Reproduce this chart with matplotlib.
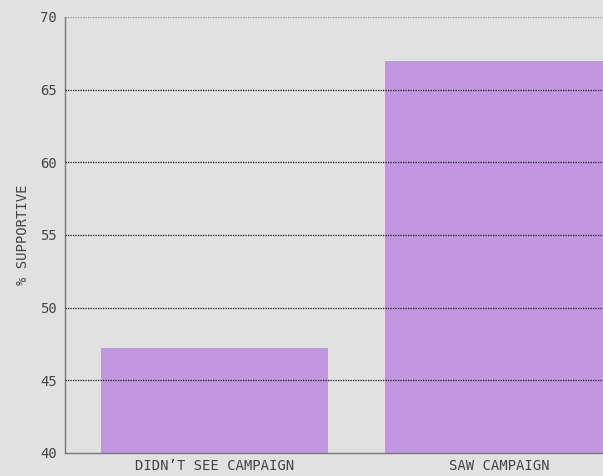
import matplotlib
matplotlib.use('Agg')
import matplotlib.pyplot as plt

# DATA
categories = ["DIDN\u2019T SEE CAMPAIGN", "SAW CAMPAIGN"]
supportive = [47.2, 67.0]
y_ticks = [40, 45, 50, 55, 60, 65, 70]

BG = '#e1e1e1'
BAR = '#c197e0'

plt.rcParams['font.family'] = ['DejaVu Sans Mono']

fig = plt.figure(figsize=(6.03, 4.76), dpi=100, facecolor=BG)
ax = fig.add_axes([65 / 603, 23 / 476, 1 - 65 / 603, 436 / 476])
ax.set_facecolor(BG)

x = list(range(len(categories)))
ax.bar(x, supportive, width=0.8, color=BAR, zorder=1)

ax.set_ylim(40, 70)
ax.set_xlim(-0.527, 1.367)
ax.set_yticks(y_ticks)
ax.set_xticks(x)
ax.set_xticklabels(categories)

# dotted grid on top of the bars
for yv in y_ticks[1:]:
    ax.axhline(yv, color='#111111' if yv < 70 else '#888888',
               linestyle=(0, (1, 1)), linewidth=0.9, zorder=3)

for side in ['top', 'right']:
    ax.spines[side].set_visible(False)
for side in ['left', 'bottom']:
    ax.spines[side].set_color('#777777')
    ax.spines[side].set_linewidth(1.0)

ax.tick_params(axis='both', colors='#444444', labelsize=10, length=0, pad=6)
ax.tick_params(axis='x', pad=4)
ax.set_ylabel('% SUPPORTIVE', fontsize=10, color='#444444', labelpad=7)

fig.savefig('out.png', dpi=100, facecolor=BG)
